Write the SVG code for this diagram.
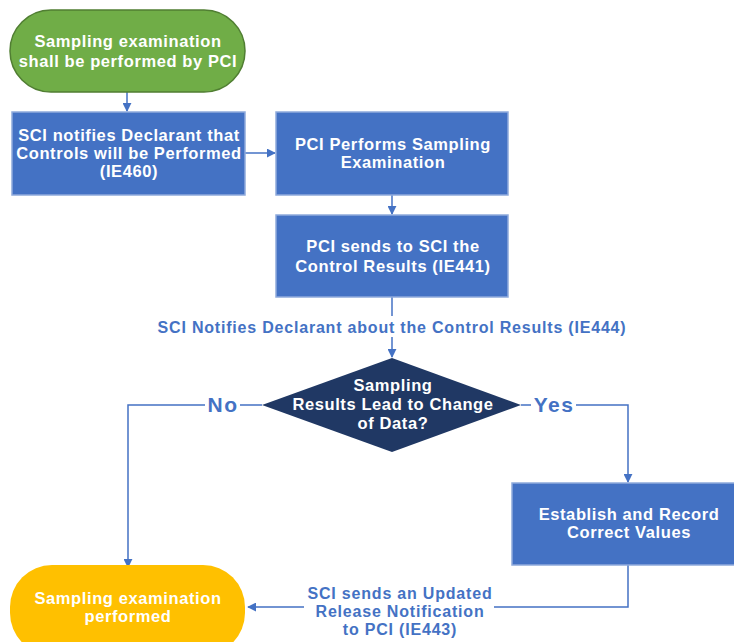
<svg xmlns="http://www.w3.org/2000/svg" width="734" height="642" viewBox="0 0 734 642">
<style>
.t{font-family:"Liberation Sans",Arial,sans-serif;font-weight:bold;font-size:16.5px;letter-spacing:0.6px;fill:#fff;text-anchor:middle}
.l{font-family:"Liberation Sans",Arial,sans-serif;font-weight:bold;font-size:16px;letter-spacing:0.8px;fill:#4472C4;text-anchor:middle}
.yn{font-family:"Liberation Sans",Arial,sans-serif;font-weight:bold;font-size:21px;letter-spacing:1.5px;fill:#4472C4;text-anchor:middle}
.box{fill:#4472C4;stroke:#8FAADC;stroke-width:1.5}
.c{fill:none;stroke:#4472C4;stroke-width:1.5}
</style>
<defs>
<marker id="a" viewBox="0 0 10 10" refX="9" refY="5" markerWidth="9" markerHeight="9" markerUnits="userSpaceOnUse" orient="auto">
<path d="M0,0 L10,5 L0,10 z" fill="#4472C4"/>
</marker>
</defs>
<rect width="734" height="642" fill="#fff"/>
<g id="connectors">
<path class="c" d="M127,92 V111" marker-end="url(#a)"/>
<path class="c" d="M245,153 H275" marker-end="url(#a)"/>
<path class="c" d="M392,195 V214" marker-end="url(#a)"/>
<path class="c" d="M392,297 V316"/>
<path class="c" d="M392,337 V357" marker-end="url(#a)"/>
<path class="c" d="M262,405 H240 M205,405 H128 V567" marker-end="url(#a)"/>
<path class="c" d="M521,405 H531 M576,405 H628 V482" marker-end="url(#a)"/>
<path class="c" d="M628,565 V607 H494 M304,607 H248" marker-end="url(#a)"/>
<text class="l" x="392" y="333">SCI Notifies Declarant about the Control Results (IE444)</text>
<text class="yn" x="223" y="412">No</text>
<text class="yn" x="554" y="412">Yes</text>
<text class="l" x="400" y="599">SCI sends an Updated</text>
<text class="l" x="400" y="617">Release Notification</text>
<text class="l" x="400" y="635">to PCI (IE443)</text>
</g>
<g id="start">
<rect x="10" y="10" width="235" height="82" rx="41" fill="#70AD47" stroke="#507E32" stroke-width="1.5"/>
<text class="t" x="128" y="47">Sampling examination</text>
<text class="t" x="128" y="67">shall be performed by PCI</text>
</g>
<g id="notify">
<rect class="box" x="12" y="112" width="233" height="83"/>
<text class="t" x="129" y="141">SCI notifies Declarant that</text>
<text class="t" x="129" y="159">Controls will be Performed</text>
<text class="t" x="129" y="177">(IE460)</text>
</g>
<g id="perform">
<rect class="box" x="276" y="112" width="232" height="83"/>
<text class="t" x="393" y="150">PCI Performs Sampling</text>
<text class="t" x="393" y="168">Examination</text>
</g>
<g id="sends">
<rect class="box" x="276" y="215" width="232" height="82"/>
<text class="t" x="393" y="252">PCI sends to SCI the</text>
<text class="t" x="393" y="272">Control Results (IE441)</text>
</g>
<g id="decision">
<polygon points="392,358 521,405 392,452 262,405" fill="#203864"/>
<text class="t" x="393" y="391">Sampling</text>
<text class="t" x="393" y="410">Results Lead to Change</text>
<text class="t" x="393" y="429">of Data?</text>
</g>
<g id="establish">
<rect class="box" x="512" y="483" width="233" height="82"/>
<text class="t" x="629" y="520">Establish and Record</text>
<text class="t" x="629" y="538">Correct Values</text>
</g>
<g id="end">
<rect x="10" y="565" width="235" height="90" rx="42" fill="#FFC000"/>
<text class="t" x="128" y="604">Sampling examination</text>
<text class="t" x="128" y="622">performed</text>
</g>
</svg>
